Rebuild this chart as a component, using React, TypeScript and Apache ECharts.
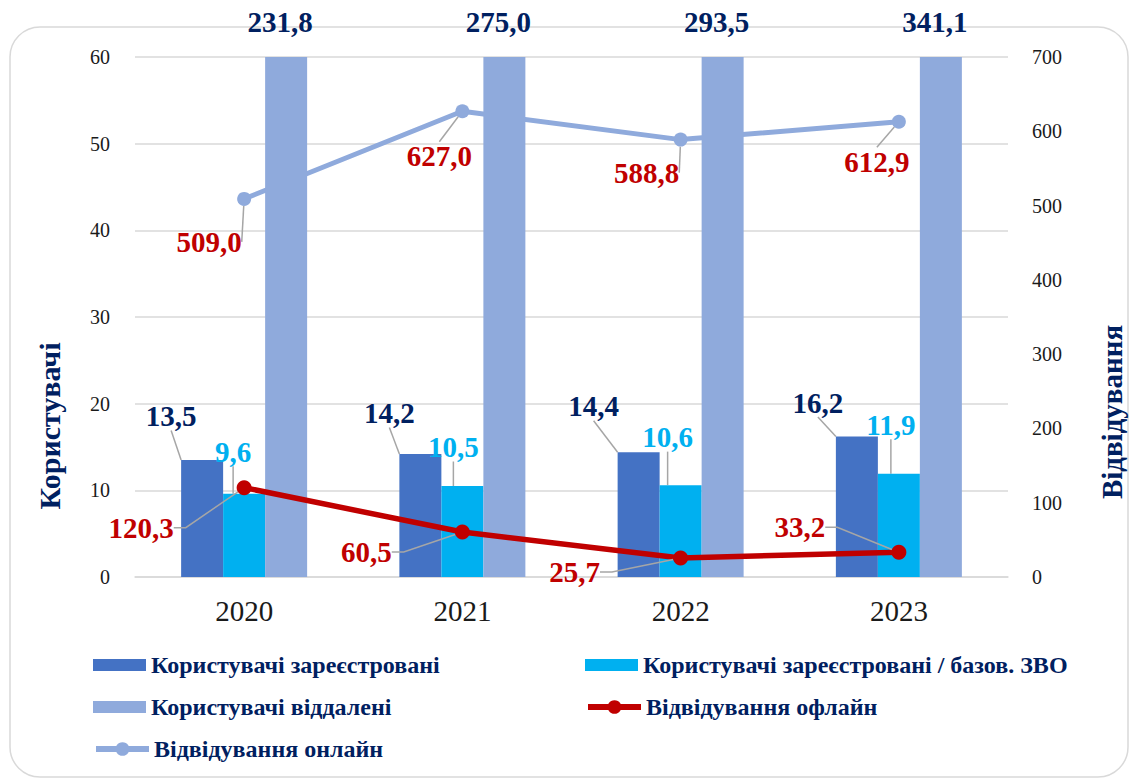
import React, { useEffect, useRef } from 'react';
import * as echarts from 'echarts';

// ---- data ----
const years = ['2020', '2021', '2022', '2023'];
const registered = [13.5, 14.2, 14.4, 16.2];
const registeredBase = [9.6, 10.5, 10.6, 11.9];
const remote = [231.8, 275.0, 293.5, 341.1];
const visitsOffline = [120.3, 60.5, 25.7, 33.2];
const visitsOnline = [509.0, 627.0, 588.8, 612.9];

const seriesNames = [
  'Користувачі зареєстровані',
  'Користувачі зареєстровані / базов. ЗВО',
  'Користувачі віддалені',
  'Відвідування офлайн',
  'Відвідування онлайн',
];
const leftAxisName = 'Користувачі';
const rightAxisName = 'Відвідування';
const leftAxisRange = { min: 0, max: 60, interval: 10 };
const rightAxisRange = { min: 0, max: 700, interval: 100 };

// ---- label placement (layout only) ----
const registeredShift = [[-31, -44], [-31, -41], [-45, -46], [-39, -34]];
const registeredBaseShift = [[-11, -42], [-9, -39], [-13, -48], [-8, -49]];
const remoteShift = [[-6, -35], [-6, -35], [-6, -35], [-6, -35]];
const offlineShift = [[-103, 40], [-96, 20], [-106, 14], [-99, -25]];
const onlineShift = [[-35, 43], [-23, 45], [-34, 33], [-22, 40]];

const FONT = 'Liberation Serif';
const NAVY = '#002060';
const fmt = (v: number) => v.toFixed(1).replace('.', ',');

const barLayout = (shift: number[][]) => (p: any) => {
  const [dx, dy] = shift[p.dataIndex];
  return {
    x: p.rect.x + p.rect.width / 2 + dx,
    y: p.rect.y + dy,
    align: 'center',
    verticalAlign: 'middle',
  };
};
const pointLayout = (shift: number[][]) => (p: any) => {
  const [dx, dy] = shift[p.dataIndex];
  return {
    x: p.rect.x + p.rect.width / 2 + dx,
    y: p.rect.y + p.rect.height / 2 + dy,
    align: 'center',
    verticalAlign: 'middle',
  };
};

const labelBase = (color: string) => ({
  show: true,
  position: 'top',
  color,
  fontFamily: FONT,
  fontWeight: 'bold',
  fontSize: 29,
  formatter: (p: any) => fmt(p.value),
});
const leader = (length2 = 0) => ({
  show: true,
  length2,
  lineStyle: { color: '#A6A6A6', width: 1.5 },
});

export default function App() {
  const ref = useRef<HTMLDivElement>(null);
  useEffect(() => {
    if (!ref.current) return;
    const chart = echarts.init(ref.current, undefined, { renderer: 'svg' });
    const legendText = { color: NAVY, fontFamily: FONT, fontWeight: 'bold', fontSize: 24 };
    const mkLegend = (name: string, left: number, top: number, isLine = false) => ({
      data: [isLine ? { name } : { name, icon: 'rect' }],
      left,
      top,
      padding: 0,
      itemWidth: 53,
      itemHeight: isLine ? 17 : 12,
      itemGap: 0,
      textStyle: legendText,
      selectedMode: false,
      lineStyle: isLine ? { width: 6 } : undefined,
    });
    chart.setOption({
      animation: false,
      backgroundColor: '#ffffff',
      grid: { left: 135, right: 124, top: 57, bottom: 204 },
      graphic: [
        {
          type: 'rect',
          z: -10,
          shape: { x: 10, y: 27, width: 1118, height: 750, r: 30 },
          style: { fill: 'none', stroke: '#D9D9D9', lineWidth: 1.5 },
        },
        {
          type: 'text',
          x: 49,
          y: 426,
          rotation: Math.PI / 2,
          style: {
            text: leftAxisName,
            fill: NAVY,
            fontFamily: FONT,
            fontWeight: 'bold',
            fontSize: 30,
            align: 'center',
            verticalAlign: 'middle',
          },
        },
        {
          type: 'text',
          x: 1112,
          y: 412,
          rotation: Math.PI / 2,
          style: {
            text: rightAxisName,
            fill: NAVY,
            fontFamily: FONT,
            fontWeight: 'bold',
            fontSize: 29,
            align: 'center',
            verticalAlign: 'middle',
          },
        },
      ],
      legend: [
        mkLegend(seriesNames[0], 93, 653),
        mkLegend(seriesNames[1], 585, 653),
        mkLegend(seriesNames[2], 93, 695),
        mkLegend(seriesNames[3], 585, 695, true),
        mkLegend(seriesNames[4], 93, 737, true),
      ],
      xAxis: {
        type: 'category',
        data: years,
        axisLine: { show: true, lineStyle: { color: '#D9D9D9', width: 1.5 } },
        axisTick: { show: false },
        axisLabel: { color: '#1a1a1a', fontFamily: FONT, fontSize: 29, margin: 19 },
      },
      yAxis: [
        {
          type: 'value',
          ...leftAxisRange,
          axisLine: { show: false },
          axisTick: { show: false },
          splitLine: { lineStyle: { color: '#D9D9D9', width: 1.5 } },
          axisLabel: { color: '#1a1a1a', fontFamily: FONT, fontSize: 20, margin: 25 },
        },
        {
          type: 'value',
          position: 'right',
          ...rightAxisRange,
          axisLine: { show: false },
          axisTick: { show: false },
          splitLine: { show: false },
          axisLabel: { color: '#1a1a1a', fontFamily: FONT, fontSize: 20, margin: 24 },
        },
      ],
      series: [
        {
          name: seriesNames[0],
          type: 'bar',
          data: registered,
          yAxisIndex: 0,
          barWidth: 42,
          barGap: '0%',
          itemStyle: { color: '#4472C4' },
          label: labelBase(NAVY),
          labelLine: leader(),
          labelLayout: barLayout(registeredShift),
          z: 2,
        },
        {
          name: seriesNames[1],
          type: 'bar',
          data: registeredBase,
          yAxisIndex: 0,
          barWidth: 42,
          barGap: '0%',
          itemStyle: { color: '#00B0F0' },
          label: labelBase('#00B0F0'),
          labelLine: leader(),
          labelLayout: barLayout(registeredBaseShift),
          z: 2,
        },
        {
          name: seriesNames[2],
          type: 'bar',
          data: remote,
          yAxisIndex: 0,
          barWidth: 42,
          barGap: '0%',
          clip: true,
          itemStyle: { color: '#8FAADC' },
          label: labelBase(NAVY),
          labelLayout: barLayout(remoteShift),
          z: 2,
        },
        {
          name: seriesNames[3],
          type: 'line',
          data: visitsOffline,
          yAxisIndex: 1,
          symbol: 'circle',
          symbolSize: 15,
          lineStyle: { color: '#C00000', width: 5.5 },
          itemStyle: { color: '#C00000' },
          label: labelBase('#C00000'),
          labelLine: leader(12),
          labelLayout: pointLayout(offlineShift),
          z: 5,
        },
        {
          name: seriesNames[4],
          type: 'line',
          data: visitsOnline,
          yAxisIndex: 1,
          symbol: 'circle',
          symbolSize: 14,
          lineStyle: { color: '#8FAADC', width: 5 },
          itemStyle: { color: '#8FAADC' },
          label: labelBase('#C00000'),
          labelLine: leader(),
          labelLayout: pointLayout(onlineShift),
          z: 1,
        },
      ],
    });
    return () => chart.dispose();
  }, []);
  return (
    <div
      ref={ref}
      style={{ position: 'absolute', left: 0, top: 0, width: 1132, height: 781, background: '#fff' }}
    />
  );
}
